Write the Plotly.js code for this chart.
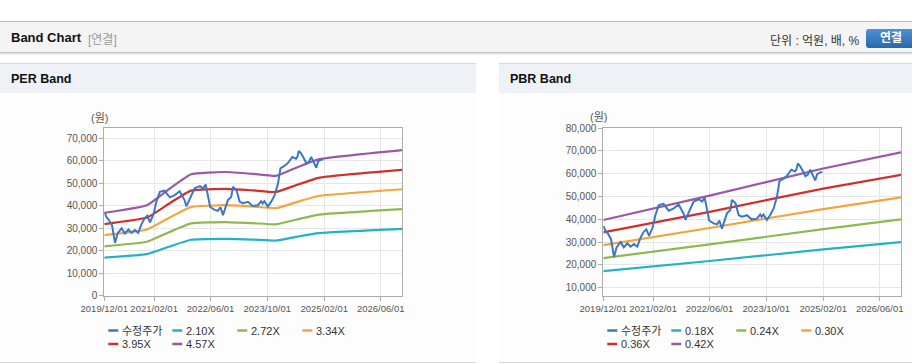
<!DOCTYPE html>
<html>
<head>
<meta charset="utf-8">
<script src="https://cdn.plot.ly/plotly-3.0.1.min.js"></script>
<style>
  html, body { margin:0; padding:0; width:912px; height:364px; overflow:hidden; background:#fff;
    font-family:"Liberation Sans", Arial, "Noto Sans CJK KR", sans-serif; }
  .abs { position:absolute; }
  #topbar { left:0; top:21px; width:912px; height:30px; background:#f4f4f4;
    border-top:1px solid #b9b9b9; border-bottom:1px solid #c4c4c4; box-shadow:0 1px 2px rgba(0,0,0,0.18); }
  #title { left:11px; top:30px; font-size:13px; font-weight:bold; color:#111; }
  #sub { left:88px; top:30px; font-size:12px; color:#999; }
  #unit { left:770px; top:31px; font-size:12px; color:#333; }
  #btn { left:866px; top:29px; width:50px; height:19px; border-radius:3px;
    background:linear-gradient(#4e91d3,#2b68ab); color:#fff; font-size:12px; font-weight:bold;
    text-align:center; line-height:19px; }
  .sec { top:63px; height:29px; background:#eef2f6; border-top:1px solid #d6dade; }
  .sectxt { top:72px; font-size:12.5px; font-weight:bold; color:#111; }
  .panel { top:93px; height:269px; background:#fdfdfd; border-bottom:1px solid #d8d8d8; }
  #chart { left:0; top:0; width:912px; height:364px; z-index:5; }
</style>
</head>
<body>
<div id="topbar" class="abs"></div>
<div id="title" class="abs">Band Chart</div>
<div id="sub" class="abs">[연결]</div>
<div id="unit" class="abs">단위 : 억원, 배, %</div>
<div id="btn" class="abs">연결</div>
<div class="abs sec" style="left:0;width:476px;"></div>
<div class="abs sec" style="left:499px;width:413px;"></div>
<div class="abs sectxt" style="left:11px;">PER Band</div>
<div class="abs sectxt" style="left:510px;">PBR Band</div>
<div class="abs panel" style="left:0;width:476px;"></div>
<div class="abs panel" style="left:499px;width:413px;"></div>
<div id="chart" class="abs"></div>
<script>
// ---------------- DATA ----------------
const xTickVals = ['2019-12-01','2021-02-01','2022-06-01','2023-10-01','2025-02-01','2026-06-01'];
const xTickText = ['2019/12/01','2021/02/01','2022/06/01','2023/10/01','2025/02/01','2026/06/01'];

const priceName = '수정주가';
const priceDates = ['2019-12-01','2019-12-20','2020-01-10','2020-02-05','2020-03-02','2020-03-25','2020-04-28','2020-05-25',
  '2020-06-25','2020-07-22','2020-08-20','2020-09-18','2020-10-15','2020-11-10','2020-12-05','2020-12-28',
  '2021-01-28','2021-02-20','2021-03-22','2021-05-01','2021-06-15','2021-07-28','2021-09-08','2021-10-20',
  '2021-11-05','2021-12-05','2022-01-15','2022-03-01','2022-03-28','2022-04-20','2022-05-10','2022-05-28',
  '2022-07-06','2022-08-03','2022-08-25','2022-09-15','2022-10-28','2022-11-25','2022-12-10','2023-01-10',
  '2023-02-06','2023-03-06','2023-04-18','2023-05-28','2023-07-12','2023-08-10','2023-08-22','2023-09-06',
  '2023-10-06','2023-11-06','2023-12-03','2024-01-01','2024-01-22','2024-02-12','2024-03-12','2024-04-03',
  '2024-05-03','2024-06-03','2024-06-15','2024-06-28','2024-07-18','2024-08-12','2024-09-01','2024-09-22',
  '2024-10-12','2024-11-01','2024-11-25','2024-12-10','2025-01-10','2025-01-25'];
const priceValues = [37100,35000,33700,31400,23500,27800,30000,27700,
  29500,28000,29200,28000,31800,34400,35600,32700,
  36500,41800,46300,46800,43800,44800,46500,42600,
  39800,43300,47800,48800,47800,49500,44800,39500,
  38200,37800,39400,35900,42600,44000,48500,47000,
  41800,41200,41800,40000,40300,42100,41100,42100,
  39700,42100,44800,50000,56700,57400,58400,59600,
  61800,61000,61800,64500,63300,61000,58900,59600,
  61800,59600,57000,59800,60700,60700];

// PER band
const perNames = ['2.10X','2.72X','3.34X','3.95X','4.57X'];
const perDates = ['2019-12-01','2020-12-01','2021-06-15','2021-12-15','2022-10-01','2023-06-01','2023-12-15','2024-06-15','2024-12-15','2026-12-01'];
const per210 = [17000,18500,21900,24900,25300,25000,24500,26300,27900,29800];
const per272 = [22000,24000,28400,32200,32800,32300,31800,34000,36100,38600];
const per334 = [27000,29500,34800,39500,40300,39700,39000,41800,44400,47400];
const per395 = [31900,34800,41200,46800,47600,46900,46200,49400,52500,56000];
const per457 = [36900,40300,47700,54100,55100,54300,53400,57200,60700,64800];

// PBR band
const pbrNames = ['0.18X','0.24X','0.30X','0.36X','0.42X'];
const pbrDates = ['2019-12-01','2022-06-01','2025-02-01','2026-12-01'];
const pbr018 = [17300,21700,26800,30000];
const pbr024 = [23000,29000,35700,40000];
const pbr030 = [28700,36200,44500,49600];
const pbr036 = [34300,43300,53500,59500];
const pbr042 = [39700,50400,62300,69400];

// ---------------- STYLE ----------------
const W = 912, H = 364;
const px = x => x / W, py = y => 1 - y / H;
const priceColor = '#3a77c4';
const bandColors = ['#22b2c6', '#8fb94e', '#f4a43a', '#cf302c', '#9a58a5'];
const FONT = '"Liberation Sans", Arial, "Noto Sans CJK KR", sans-serif';

const perLeft = 104.3, perRight = 402, pbrLeft = 603.3, pbrRight = 901;
const plotTop = 128.2, plotBottom = 295.7;

function bandTraces(dates, series, names, xa, ya) {
  return series.map((vals, i) => ({
    x: dates, y: vals, name: names[i], type: 'scatter', mode: 'lines',
    line: {color: bandColors[i], width: 2.2, shape: 'spline', smoothing: 0.4}, xaxis: xa, yaxis: ya, hoverinfo: 'skip'
  }));
}
const data = [
  ...bandTraces(perDates, [per210, per272, per334, per395, per457], perNames, 'x', 'y'),
  {x: priceDates, y: priceValues, name: priceName, type: 'scatter', mode: 'lines',
   line: {color: priceColor, width: 2}, xaxis: 'x', yaxis: 'y'},
  ...bandTraces(pbrDates, [pbr018, pbr024, pbr030, pbr036, pbr042], pbrNames, 'x2', 'y2'),
  {x: priceDates, y: priceValues, name: priceName, type: 'scatter', mode: 'lines',
   line: {color: priceColor, width: 2}, xaxis: 'x2', yaxis: 'y2'}
];

const axisCommon = {
  showgrid: true, gridcolor: '#e6e6e6', gridwidth: 1,
  showline: true, linecolor: '#adadad', linewidth: 1, mirror: true,
  ticks: 'outside', ticklen: 4, tickcolor: '#adadad',
  tickfont: {size: 10, color: '#555', family: FONT}, zeroline: false, fixedrange: true
};
function xAxis(l, r, anchor) {
  return Object.assign({}, axisCommon, {
    type: 'date', domain: [px(l), px(r)], range: ['2019-12-01', '2026-12-01'],
    tickmode: 'array', tickvals: xTickVals, ticktext: xTickText, anchor: anchor,
    tickangle: 0, tickfont: {size: 9.5, color: '#555', family: FONT}
  });
}
function yAxis(range, anchor) {
  return Object.assign({}, axisCommon, {
    domain: [py(plotBottom), py(plotTop)], range: range, tick0: 0, dtick: 10000,
    tickformat: ',d', anchor: anchor
  });
}

// custom legends
const shapes = [], annotations = [];
const colOff = [4, 68, 133, 198], rowY = [330.5, 344];
function addLegend(left, names, colors) {
  names.forEach((n, i) => {
    const c = i < 4 ? i : i - 4, r = i < 4 ? 0 : 1;
    const x0 = left + colOff[c];
    shapes.push({type: 'line', xref: 'paper', yref: 'paper', x0: px(x0), x1: px(x0 + 10),
      y0: py(rowY[r]), y1: py(rowY[r]), line: {color: colors[i], width: 2.5}});
    annotations.push({xref: 'paper', yref: 'paper', x: px(x0 + 12), y: py(rowY[r]),
      xanchor: 'left', yanchor: 'middle', text: n, showarrow: false,
      font: {size: 11, color: '#333', family: FONT}});
  });
}
addLegend(perLeft, [priceName, ...perNames], [priceColor, ...bandColors]);
addLegend(pbrLeft, [priceName, ...pbrNames], [priceColor, ...bandColors]);
[[99, 118], [598, 117.5]].forEach(([x, y]) => annotations.push({
  xref: 'paper', yref: 'paper', x: px(x), y: py(y), xanchor: 'center', yanchor: 'middle',
  text: '(원)', showarrow: false, font: {size: 11, color: '#555', family: FONT}}));

const layout = {
  width: W, height: H, margin: {l: 0, r: 0, t: 0, b: 0},
  paper_bgcolor: 'rgba(0,0,0,0)', plot_bgcolor: '#ffffff',
  showlegend: false, font: {family: FONT},
  xaxis: xAxis(perLeft, perRight, 'y'), yaxis: yAxis([0, 74600], 'x'),
  xaxis2: xAxis(pbrLeft, pbrRight, 'y2'), yaxis2: yAxis([6480, 80001], 'x2'),
  shapes: shapes, annotations: annotations
};
Plotly.newPlot('chart', data, layout, {displayModeBar: false, staticPlot: true});
</script>
</body>
</html>
